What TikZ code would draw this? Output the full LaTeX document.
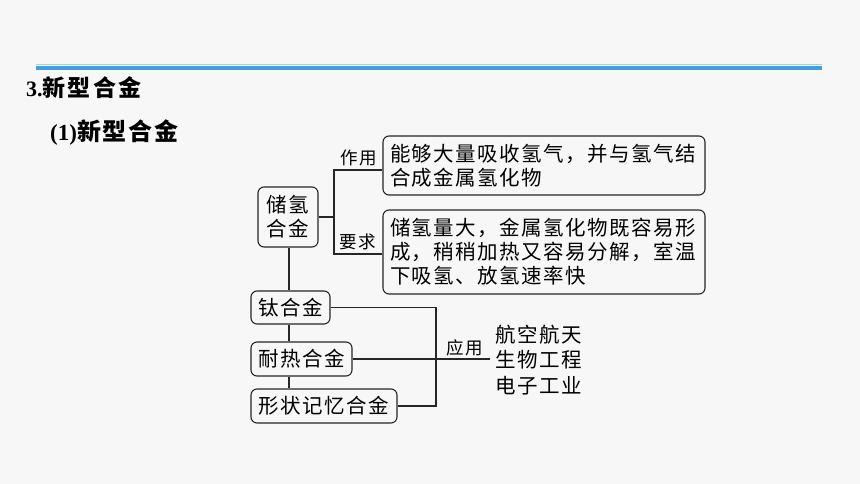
\documentclass[tikz,border=0pt]{standalone}
\usepackage{fontspec}
\setmainfont{Liberation Serif}
\newfontfamily\cjk[LetterSpace=7]{Noto Sans CJK SC}
\newfontfamily\cjkb[LetterSpace=8]{Noto Sans CJK SC Bold}
\newfontfamily\cjkbt[LetterSpace=10]{Noto Sans CJK SC Bold}
\begin{document}
\begin{tikzpicture}[x=1pt,y=-1pt,
  box/.style={draw=black!85,line width=1.1pt,rounded corners=6pt,inner sep=0pt,
    font={\cjk\fontsize{20.5}{24}\selectfont}},
  lbl/.style={inner sep=0pt,font={\cjk\fontsize{17.5}{20}\selectfont}},
  conn/.style={draw=black!85,line width=1.1pt}]
\fill[black!3] (0,0) rectangle (860,484);
\useasboundingbox (0,0) rectangle (860,484);
% header lines
\fill[cyan!45!white] (36,64) rectangle (822,65.2);
\fill[cyan!70!blue!75!white] (36,66.2) rectangle (822,70.4);
% titles
\node[anchor=west,inner sep=0pt] (t1) at (26,88) {\fontsize{22}{24}\selectfont\bfseries 3.{\cjkbt\fontsize{23}{24}\selectfont 新型合金}};
\node[anchor=west,inner sep=0pt] (t2) at (50,133) {\fontsize{23}{26}\selectfont\bfseries (1){\cjkb\fontsize{24}{26}\selectfont 新型合金}};
% boxes
\node[box,minimum width=60pt,minimum height=60pt,align=center] (cq) at (288,217) {储氢\\合金};
\node[box,minimum width=322pt,minimum height=59pt,align=left,text width=308pt] (b1) at (544,165.5) {能够大量吸收氢气，并与氢气结\\合成金属氢化物};
\node[box,minimum width=322pt,minimum height=84pt,align=left,text width=308pt] (b2) at (544,252) {储氢量大，金属氢化物既容易形\\成，稍稍加热又容易分解，室温\\下吸氢、放氢速率快};
\node[box,minimum width=79pt,minimum height=33pt] (ti) at (290.5,307.5) {钛合金};
\node[box,minimum width=101pt,minimum height=34pt] (nr) at (301.5,359) {耐热合金};
\node[box,minimum width=146pt,minimum height=34pt] (xz) at (324,406) {形状记忆合金};
% labels
\node[lbl] (zy) at (358.5,158) {作用};
\node[lbl] (yq) at (358,242) {要求};
\node[lbl] (yy) at (465,348) {应用};
\node[inner sep=0pt,anchor=west,align=left,font={\cjk\fontsize{20.5}{25.5}\selectfont}] (app) at (495,360) {航空航天\\生物工程\\电子工业};
% connectors
\coordinate (j1) at (334,217);
\coordinate (j1t) at (334,170);
\coordinate (j1b) at (334,254);
\draw[conn] (cq.east) -- (j1);
\draw[conn] (j1t -| b1.west) -- (j1t) -- (j1b) -- (j1b -| b2.west);
\draw[conn] (cq.south -| 289,0) -- (ti.north -| 289,0);
\draw[conn] (ti.south -| 289,0) -- (nr.north -| 289,0);
\draw[conn] (nr.south -| 289,0) -- (xz.north -| 289,0);
\coordinate (j2t) at (436,0);
\draw[conn] (ti.east) -- (ti.east -| j2t) -- (xz.east -| j2t) -- (xz.east);
\coordinate (e) at (490,359);
\draw[conn] (nr.east) -- (e);
\end{tikzpicture}
\end{document}
